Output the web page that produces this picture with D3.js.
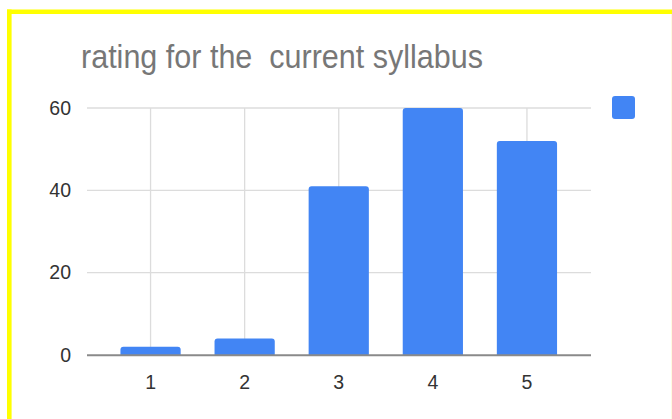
<!DOCTYPE html>
<html>
<head>
<meta charset="utf-8">
<script src="https://cdn.jsdelivr.net/npm/d3@7"></script>
<style>
  html, body { margin: 0; padding: 0; background: #fff; }
  svg { display: block; font-family: "Liberation Sans", Arial, sans-serif; }
</style>
</head>
<body>
<div id="chart"></div>
<script>
// chart values
const title = "rating for the  current syllabus";
const ratings = ["1", "2", "3", "4", "5"];
const counts = [2, 4, 41, 60, 52];
const yTicks = [0, 20, 40, 60];

const width = 672;
const height = 419;
const barColor = "#4285f4";

const svg = d3.select("#chart").append("svg")
  .attr("width", width)
  .attr("height", height);

// yellow frame (top + left, faint right edge)
svg.append("line")
  .attr("x1", 7).attr("x2", width).attr("y1", 11.8).attr("y2", 11.8)
  .attr("stroke", "#ffff00").attr("stroke-width", 4.6);
svg.append("line")
  .attr("x1", 9.3).attr("x2", 9.3).attr("y1", 9.5).attr("y2", height)
  .attr("stroke", "#ffff00").attr("stroke-width", 4.6);
svg.append("line")
  .attr("x1", 671.5).attr("x2", 671.5).attr("y1", 14).attr("y2", height)
  .attr("stroke", "#fffbe0").attr("stroke-width", 1);

const x = d3.scaleBand()
  .domain(ratings)
  .range([103.5, 574])
  .paddingInner(0.36)
  .paddingOuter(0.18);

const y = d3.scaleLinear()
  .domain([0, 60])
  .range([355, 108]);

const plotLeft = 87;
const plotRight = 591;

// horizontal gridlines
svg.append("g").selectAll("line")
  .data(yTicks.filter(d => d !== 0))
  .enter().append("line")
  .attr("x1", plotLeft).attr("x2", plotRight)
  .attr("y1", d => y(d)).attr("y2", d => y(d))
  .attr("stroke", "#dcdcdc").attr("stroke-width", 1.3);

// vertical gridlines at category centres
svg.append("g").selectAll("line")
  .data(ratings)
  .enter().append("line")
  .attr("x1", d => x(d) + x.bandwidth() / 2)
  .attr("x2", d => x(d) + x.bandwidth() / 2)
  .attr("y1", y(60)).attr("y2", y(0))
  .attr("stroke", "#dcdcdc").attr("stroke-width", 1.3);

// bars with rounded tops
const r = 3;
svg.append("g").selectAll("path")
  .data(counts)
  .enter().append("path")
  .attr("fill", barColor)
  .attr("d", (d, i) => {
    const x0 = x(ratings[i]);
    const x1 = x0 + x.bandwidth();
    const y0 = y(0);
    const y1 = y(d);
    return "M" + x0 + "," + y0 +
      "V" + (y1 + r) +
      "Q" + x0 + "," + y1 + " " + (x0 + r) + "," + y1 +
      "H" + (x1 - r) +
      "Q" + x1 + "," + y1 + " " + x1 + "," + (y1 + r) +
      "V" + y0 + "Z";
  });

// baseline
svg.append("line")
  .attr("x1", plotLeft).attr("x2", plotRight)
  .attr("y1", y(0) + 0.3).attr("y2", y(0) + 0.3)
  .attr("stroke", "#8a8a8a").attr("stroke-width", 2);

// y axis labels
const yAxis = d3.axisLeft(y).tickValues(yTicks).tickSize(0).tickPadding(0);
const gy = svg.append("g")
  .attr("transform", "translate(71,0)")
  .call(yAxis);
gy.select(".domain").remove();
gy.selectAll("text")
  .attr("font-size", 19.5)
  .attr("fill", "#333")
  .attr("font-family", "Liberation Sans, Arial, sans-serif");

// x axis labels
const xAxis = d3.axisBottom(x).tickSize(0).tickPadding(0);
const gx = svg.append("g")
  .attr("transform", "translate(0,375)")
  .call(xAxis);
gx.select(".domain").remove();
gx.selectAll("text")
  .attr("font-size", 19.5)
  .attr("fill", "#333")
  .attr("font-family", "Liberation Sans, Arial, sans-serif");

// title
svg.append("text")
  .attr("x", 81)
  .attr("y", 68)
  .attr("font-size", 33)
  .attr("fill", "#777")
  .attr("textLength", 402)
  .attr("lengthAdjust", "spacingAndGlyphs")
  .style("white-space", "pre")
  .text(title);

// legend swatch
svg.append("rect")
  .attr("x", 612).attr("y", 96)
  .attr("width", 23).attr("height", 23)
  .attr("rx", 3)
  .attr("fill", barColor);
</script>
</body>
</html>
